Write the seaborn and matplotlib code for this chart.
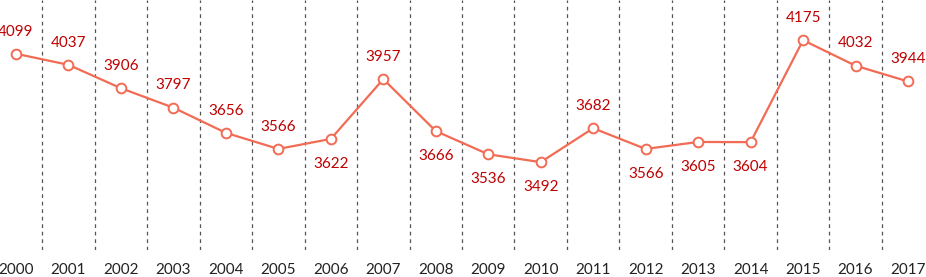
import matplotlib
matplotlib.use("agg")
import matplotlib.pyplot as plt
import pandas as pd
import seaborn as sns

years = list(range(2000, 2018))
values = [4099, 4037, 3906, 3797, 3656, 3566, 3622, 3957, 3666, 3536,
          3492, 3682, 3566, 3605, 3604, 4175, 4032, 3944]
label_below = [False, False, False, False, False, False, True, False, True, True,
               True, False, True, True, True, False, False, False]

LINE, TEXT = "#f26b54", "#c00000"

sns.set_theme(style="white")
plt.rcParams["font.family"] = ["Lato", "DejaVu Sans"]

df = pd.DataFrame({"pos": range(len(years)), "value": values})

fig = plt.figure(figsize=(9.26, 2.77), dpi=100)
ax = fig.add_axes([0, 27 / 277, 1, 250 / 277])

sns.lineplot(df, x="pos", y="value", color=LINE, linewidth=1.6,
             marker="o", markersize=7, markerfacecolor="white",
             markeredgecolor=LINE, markeredgewidth=1.4, ax=ax, zorder=3)

for i in range(len(years) - 1):
    ax.axvline(i + 0.5, color="#555555", linestyle=(0, (3, 3)), linewidth=0.9, zorder=1)

for i, (v, below) in enumerate(zip(values, label_below)):
    ax.annotate(str(v), (i, v), xytext=(0, -18 if below else 16),
                textcoords="offset points", ha="center", va="center",
                fontsize=11, color=TEXT)

ax.set_xlim(-0.305, 17.343)
ax.set_ylim(3000, 4400)
ax.set_xticks(range(len(years)))
ax.set_xticklabels([str(y) for y in years])
ax.tick_params(axis="x", length=0, pad=9, labelsize=11, labelcolor="#222222")
ax.set_yticks([])
ax.set_xlabel("")
ax.set_ylabel("")
for s in ax.spines.values():
    s.set_visible(False)

fig.savefig("out.png", dpi=100)
